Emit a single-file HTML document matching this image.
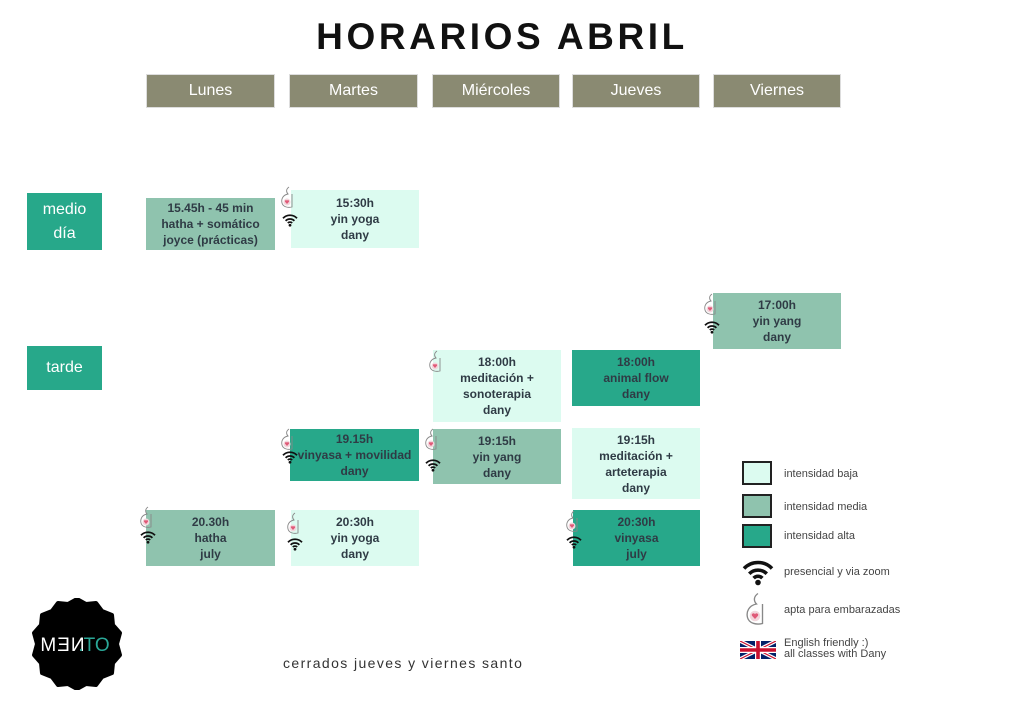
<!DOCTYPE html>
<html><head><meta charset="utf-8"><style>
*{margin:0;padding:0;box-sizing:border-box}
body{width:1024px;height:724px;background:#fff;position:relative;overflow:hidden;font-family:"Liberation Sans",sans-serif}
.a{position:absolute}
.h{background:#8a8a72;color:#fff;font-size:16px;display:flex;align-items:center;justify-content:center;border:1px solid #ddd}
.r{background:#27a88a;color:#fff;font-size:16px;display:flex;align-items:center;justify-content:center;text-align:center;line-height:24px}
.c{display:flex;align-items:center;justify-content:center;text-align:center;color:#2f3b45;font-weight:bold;font-size:12px;line-height:16px}
.L{background:#dcfbf0}.M{background:#8fc3ae}.H{background:#27a88a}
.lg{font-size:11px;color:#444}
.sq{width:30px;height:24px;border:2px solid #222}
</style></head><body>
<svg width="0" height="0" style="position:absolute"><defs>
<symbol id="p" viewBox="0 0 14 24"><path d="M9 1 C6 3 6 6 8 8 C3 9 1 13 2 17 C3 21 8 22 12 21 L12 8" fill="none" stroke="#888" stroke-width="0.9"/><circle cx="7" cy="16" r="3.5" fill="#f2d6dc"/><path d="M7 18 L5 15.8 A1 1 0 0 1 7 14.8 A1 1 0 0 1 9 15.8Z" fill="#e05a78"/></symbol>
<symbol id="w" viewBox="0 0 20 16"><path d="M2 6 A11 11 0 0 1 18 6" fill="none" stroke="#111" stroke-width="2"/><path d="M5 9 A7 7 0 0 1 15 9" fill="none" stroke="#111" stroke-width="2"/><path d="M7.5 11.5 A3.5 3.5 0 0 1 12.5 11.5" fill="none" stroke="#111" stroke-width="2"/><circle cx="10" cy="14" r="1.6" fill="#111"/></symbol>
</defs></svg>
<div class="a" style="left:0;width:1004px;top:16px;text-align:center;font-size:37px;font-weight:bold;letter-spacing:3.6px;color:#111">HORARIOS ABRIL</div>
<div class="a h" style="left:146px;top:74px;width:129px;height:34px">Lunes</div>
<div class="a h" style="left:289px;top:74px;width:129px;height:34px">Martes</div>
<div class="a h" style="left:432px;top:74px;width:128px;height:34px">Miércoles</div>
<div class="a h" style="left:572px;top:74px;width:128px;height:34px">Jueves</div>
<div class="a h" style="left:713px;top:74px;width:128px;height:34px">Viernes</div>
<div class="a r" style="left:27px;top:193px;width:75px;height:57px">medio<br>día</div>
<div class="a r" style="left:27px;top:346px;width:75px;height:44px">tarde</div>

<div class="a c M" style="left:146px;top:198px;width:129px;height:52px">15.45h - 45 min<br>hatha + somático<br>joyce (prácticas)</div>
<div class="a c L" style="left:291px;top:190px;width:128px;height:58px">15:30h<br>yin yoga<br>dany</div>
<div class="a c M" style="left:713px;top:293px;width:128px;height:56px">17:00h<br>yin yang<br>dany</div>
<div class="a c L" style="left:433px;top:350px;width:128px;height:72px">18:00h<br>meditación +<br>sonoterapia<br>dany</div>
<div class="a c H" style="left:572px;top:350px;width:128px;height:56px">18:00h<br>animal flow<br>dany</div>
<div class="a c H" style="left:290px;top:429px;width:129px;height:52px">19.15h<br>vinyasa + movilidad<br>dany</div>
<div class="a c M" style="left:433px;top:429px;width:128px;height:55px">19:15h<br>yin yang<br>dany</div>
<div class="a c L" style="left:572px;top:428px;width:128px;height:71px">19:15h<br>meditación +<br>arteterapia<br>dany</div>
<div class="a c M" style="left:146px;top:510px;width:129px;height:56px">20.30h<br>hatha<br>july</div>
<div class="a c L" style="left:291px;top:510px;width:128px;height:56px">20:30h<br>yin yoga<br>dany</div>
<div class="a c H" style="left:573px;top:510px;width:127px;height:56px">20:30h<br>vinyasa<br>july</div>

<svg class="a" style="left:280px;top:186px" width="14" height="24"><use href="#p"/></svg><svg class="a" style="left:281px;top:213px" width="18" height="14"><use href="#w"/></svg>
<svg class="a" style="left:703px;top:293px" width="14" height="24"><use href="#p"/></svg><svg class="a" style="left:703px;top:320px" width="18" height="14"><use href="#w"/></svg>
<svg class="a" style="left:428px;top:350px" width="14" height="24"><use href="#p"/></svg>
<svg class="a" style="left:280px;top:428px" width="14" height="24"><use href="#p"/></svg><svg class="a" style="left:281px;top:450px" width="18" height="14"><use href="#w"/></svg>
<svg class="a" style="left:424px;top:428px" width="14" height="24"><use href="#p"/></svg><svg class="a" style="left:424px;top:458px" width="18" height="14"><use href="#w"/></svg>
<svg class="a" style="left:139px;top:506px" width="14" height="24"><use href="#p"/></svg><svg class="a" style="left:139px;top:530px" width="18" height="14"><use href="#w"/></svg>
<svg class="a" style="left:286px;top:512px" width="14" height="24"><use href="#p"/></svg><svg class="a" style="left:286px;top:537px" width="18" height="14"><use href="#w"/></svg>
<svg class="a" style="left:565px;top:510px" width="14" height="24"><use href="#p"/></svg><svg class="a" style="left:565px;top:535px" width="18" height="14"><use href="#w"/></svg>

<div class="a sq L" style="left:742px;top:461px"></div><div class="a lg" style="left:784px;top:468px">intensidad baja</div>
<div class="a sq M" style="left:742px;top:494px"></div><div class="a lg" style="left:784px;top:501px">intensidad media</div>
<div class="a sq H" style="left:742px;top:524px"></div><div class="a lg" style="left:784px;top:530px">intensidad alta</div>
<svg class="a" style="left:739px;top:558px" width="38" height="28"><use href="#w"/></svg><div class="a lg" style="left:784px;top:566px">presencial y via zoom</div>
<svg class="a" style="left:744px;top:592px" width="22" height="36"><use href="#p"/></svg><div class="a lg" style="left:784px;top:604px">apta para embarazadas</div>
<svg class="a" style="left:740px;top:641px" width="36" height="18" viewBox="0 0 60 30"><rect width="60" height="30" fill="#012169"/><path d="M0 0L60 30M60 0L0 30" stroke="#fff" stroke-width="6"/><path d="M0 0L60 30M60 0L0 30" stroke="#C8102E" stroke-width="2"/><path d="M30 0V30M0 15H60" stroke="#fff" stroke-width="10"/><path d="M30 0V30M0 15H60" stroke="#C8102E" stroke-width="6"/></svg>
<div class="a lg" style="left:784px;top:638px;line-height:11px">English friendly :)<br>all classes with Dany</div>

<svg class="a" style="left:31px;top:598px" width="92" height="92" viewBox="-46 -46 92 92">
<path d="M0,-45 L9,-40 L19,-41 L25,-33 L35,-29 L36,-19 L43,-11 L40,0 L43,11 L36,19 L35,29 L25,33 L19,41 L9,40 L0,45 L-9,40 L-19,41 L-25,33 L-35,29 L-36,19 L-43,11 L-40,0 L-43,-11 L-36,-19 L-35,-29 L-25,-33 L-19,-41 L-9,-40Z" fill="#000" stroke="#000" stroke-width="4" stroke-linejoin="round"/>
<text x="-14" y="7" text-anchor="middle" fill="#fff" font-size="19" font-family="Liberation Sans" letter-spacing="1">MƎИ</text>
<text x="17" y="7" text-anchor="middle" fill="#2aa898" font-size="19" font-family="Liberation Sans">.TO</text>
</svg>
<div class="a" style="left:283px;top:655px;font-size:14px;color:#333;letter-spacing:1.4px">cerrados jueves y viernes santo</div>
</body></html>
